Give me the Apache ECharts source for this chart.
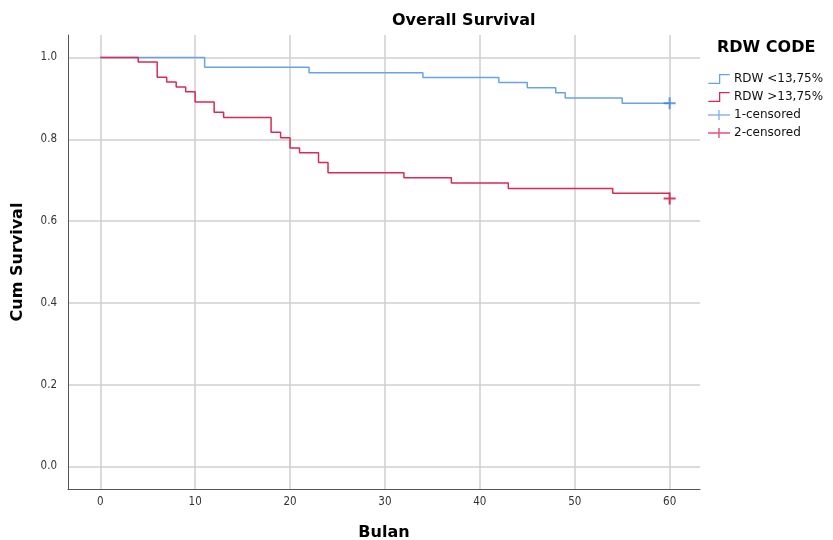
<!DOCTYPE html>
<html><head><meta charset="utf-8">
<script src="https://cdn.jsdelivr.net/npm/echarts@6/dist/echarts.min.js"></script>
<style>html,body{margin:0;padding:0;background:#fff;overflow:hidden}#c{width:833px;height:540px}</style>
</head><body><div id="c"></div>
<script>
// Kaplan-Meier step data (time in months, cumulative survival)
const lowTimes = [0, 11, 22, 34, 42, 45, 48, 49, 55, 60];
const lowSurv  = [1.0, 0.976, 0.963, 0.951, 0.939, 0.926, 0.914, 0.901, 0.888, 0.888];
const highTimes = [0, 4, 6, 7, 8, 9, 10, 12, 13, 18, 19, 20, 21, 23, 24, 32, 37, 43, 54, 60];
const highSurv  = [1.0, 0.989, 0.952, 0.940, 0.928, 0.916, 0.891, 0.866, 0.853, 0.817, 0.804, 0.779, 0.767, 0.743, 0.718, 0.706, 0.693, 0.680, 0.668, 0.668];
const lowCensored = [[60, 0.888]];
const highCensored = [[60, 0.655]];
const xTicks = [0, 10, 20, 30, 40, 50, 60];
const yTicks = [0, 0.2, 0.4, 0.6, 0.8, 1.0];
const seriesNames = ['RDW <13,75%', 'RDW >13,75%', '1-censored', '2-censored'];

const blue = '#6aa2ea', red = '#d82a52', blueC = '#3a86dc', redC = '#d2093c';
const stepIcon = 'path://M0,9 L11,9 L11,0 L22,0 L22,1.3 L12.3,1.3 L12.3,10.3 L0,10.3 Z';
const plusIcon = 'path://M0,4.3 L10.3,4.3 L10.3,0 L11.7,0 L11.7,4.3 L22,4.3 L22,5.7 L11.7,5.7 L11.7,10 L10.3,10 L10.3,5.7 L0,5.7 Z';
const plusSym = 'path://M0,5 L5,5 L5,0 L7,0 L7,5 L12,5 L12,7 L7,7 L7,12 L5,12 L5,7 L0,7 Z';
const zip = (a, b) => a.map((v, i) => [v, b[i]]);
const chart = echarts.init(document.getElementById('c'), null, {renderer: 'canvas', width: 833, height: 540});
const fontMain = '"DejaVu Sans", sans-serif';
const fontTick = '"DejaVu Sans Condensed", "Liberation Sans Narrow", sans-serif';
chart.setOption({
  animation: false,
  backgroundColor: '#fff',
  graphic: [
    {type: 'text', left: 392, top: 13, style: {text: 'Overall Survival', font: 'bold 16px ' + fontMain, fill: '#000'}},
    {type: 'text', left: 717, top: 40, style: {text: 'RDW CODE', font: 'bold 16px ' + fontMain, fill: '#000'}}
  ],
  grid: {left: 68, right: 133, top: 35, bottom: 51, containLabel: false, outerBoundsMode: 'none'},
  legend: {
    orient: 'vertical', left: 703, top: 68, itemWidth: 26, itemHeight: 10, itemGap: 6,
    textStyle: {fontFamily: fontMain, fontSize: 12, color: '#111', padding: [0, 0, 0, -3]},
    data: [
      {name: seriesNames[0], icon: stepIcon, itemStyle: {color: blue}},
      {name: seriesNames[1], icon: stepIcon, itemStyle: {color: red}},
      {name: seriesNames[2], icon: plusIcon, itemStyle: {color: blue}},
      {name: seriesNames[3], icon: plusIcon, itemStyle: {color: red}}
    ]
  },
  xAxis: {
    type: 'value', min: -3.4, max: 63.2,
    name: 'Bulan', nameLocation: 'middle', nameGap: 36,
    nameTextStyle: {fontFamily: fontMain, fontWeight: 'bold', fontSize: 16, color: '#000'},
    axisLine: {show: true, onZero: false, lineStyle: {color: '#555', width: 1}},
    axisTick: {show: false, customValues: xTicks},
    axisLabel: {customValues: xTicks, margin: 7, fontFamily: fontTick, fontSize: 11.5, color: '#333'},
    splitLine: {show: true, lineStyle: {color: '#cfcfcf', width: 1.5}}
  },
  yAxis: {
    type: 'value', min: -0.055, max: 1.055,
    name: 'Cum Survival', nameLocation: 'middle', nameGap: 42,
    nameTextStyle: {fontFamily: fontMain, fontWeight: 'bold', fontSize: 16, color: '#000'},
    axisLine: {show: true, onZero: false, lineStyle: {color: '#555', width: 1}},
    axisTick: {show: false, customValues: yTicks},
    axisLabel: {customValues: yTicks, margin: 11, fontFamily: fontTick, fontSize: 11.5, color: '#333',
      formatter: v => v.toFixed(1)},
    splitLine: {show: true, lineStyle: {color: '#cfcfcf', width: 1.5}}
  },
  series: [
    {name: seriesNames[0], type: 'line', step: 'end', data: zip(lowTimes, lowSurv), symbol: 'none',
      lineStyle: {color: blue, width: 1.5}, itemStyle: {color: blue}, z: 3},
    {name: seriesNames[1], type: 'line', step: 'end', data: zip(highTimes, highSurv), symbol: 'none',
      lineStyle: {color: red, width: 1.5}, itemStyle: {color: red}, z: 3},
    {name: seriesNames[2], type: 'scatter', data: lowCensored, symbol: plusSym, symbolSize: 12,
      itemStyle: {color: blueC}, z: 4},
    {name: seriesNames[3], type: 'scatter', data: highCensored, symbol: plusSym, symbolSize: 12,
      itemStyle: {color: redC}, z: 4}
  ]
});
</script></body></html>
